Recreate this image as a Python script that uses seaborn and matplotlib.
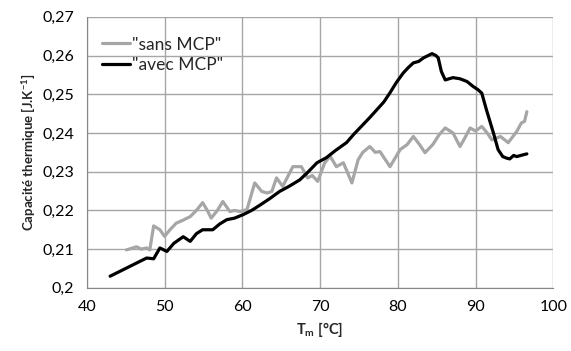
import pandas as pd
import matplotlib
matplotlib.use("Agg")
import matplotlib.pyplot as plt
import seaborn as sns
from matplotlib.ticker import FuncFormatter, MultipleLocator

# courbe "avec MCP"
avec_x = [43.0, 43.6, 44.2, 45.0, 45.9, 46.8, 47.7, 48.6, 49.4, 50.3,
          51.2, 52.4, 53.3, 54.1, 54.9, 56.2, 57.1, 58.0, 59.0, 60.1,
          61.2, 62.3, 63.5, 64.8, 66.0, 67.4, 68.5, 69.6, 70.8, 72.0,
          73.4, 74.4, 75.5, 76.4, 77.3, 78.2, 79.0, 79.8, 80.7, 81.4,
          82.0, 82.7, 83.3, 83.9, 84.4, 84.9, 85.2, 85.6, 86.1, 86.6,
          87.1, 88.0, 88.9, 89.7, 90.3, 90.8, 91.4, 92.3, 92.9, 93.5,
          94.0, 94.4, 94.9, 95.3, 96.0, 96.6]
avec_y = [0.2030, 0.2036, 0.2042, 0.2050, 0.2059, 0.2068, 0.2077, 0.2075, 0.2103, 0.2094,
          0.2115, 0.2132, 0.2120, 0.2140, 0.2150, 0.2150, 0.2165, 0.2176, 0.2180, 0.2189,
          0.2200, 0.2214, 0.2230, 0.2249, 0.2262, 0.2279, 0.2300, 0.2323, 0.2336, 0.2355,
          0.2375, 0.2398, 0.2421, 0.2440, 0.2460, 0.2480, 0.2504, 0.2530, 0.2555, 0.2570,
          0.2581, 0.2585, 0.2594, 0.2600, 0.2605, 0.2600, 0.2594, 0.2559, 0.2537, 0.2540,
          0.2543, 0.2540, 0.2533, 0.2520, 0.2512, 0.2503, 0.2460, 0.2400, 0.2357, 0.2339,
          0.2335, 0.2333, 0.2342, 0.2339, 0.2343, 0.2346]

# courbe "sans MCP"
sans_x = [45.1, 46.4, 47.0, 47.7, 48.1, 48.6, 49.4, 50.0, 50.7, 51.5,
          52.4, 53.3, 54.1, 54.9, 55.5, 56.0, 56.8, 57.5, 58.4, 59.0,
          59.7, 60.6, 61.6, 62.5, 63.2, 63.8, 64.4, 65.2, 66.5, 67.6,
          68.4, 69.0, 69.7, 70.6, 71.3, 72.1, 73.0, 74.1, 74.9, 75.5,
          76.4, 77.1, 77.7, 79.0, 80.3, 81.2, 82.0, 82.8, 83.5, 84.5,
          85.3, 86.1, 87.1, 88.0, 88.7, 89.3, 90.0, 90.8, 91.5, 92.1,
          93.2, 94.2, 95.3, 95.9, 96.3, 96.6]
sans_y = [0.2098, 0.2106, 0.2100, 0.2103, 0.2098, 0.2160, 0.2150, 0.2133, 0.2150, 0.2167,
          0.2175, 0.2184, 0.2200, 0.2220, 0.2200, 0.2180, 0.2200, 0.2223, 0.2197, 0.2200,
          0.2197, 0.2202, 0.2271, 0.2249, 0.2245, 0.2249, 0.2284, 0.2262, 0.2313, 0.2313,
          0.2284, 0.2290, 0.2275, 0.2323, 0.2340, 0.2313, 0.2323, 0.2271, 0.2331, 0.2350,
          0.2365, 0.2350, 0.2352, 0.2313, 0.2357, 0.2370, 0.2391, 0.2370, 0.2349, 0.2370,
          0.2395, 0.2413, 0.2400, 0.2365, 0.2390, 0.2413, 0.2405, 0.2417, 0.2400, 0.2382,
          0.2391, 0.2375, 0.2404, 0.2426, 0.2430, 0.2455]

labels = ['"sans MCP"', '"avec MCP"']
colors = ["#a6a6a6", "#000000"]

df = pd.concat([
    pd.DataFrame({"T": sans_x, "C": sans_y, "serie": labels[0]}),
    pd.DataFrame({"T": avec_x, "C": avec_y, "serie": labels[1]}),
])

sns.set_style("white")
plt.rcParams["font.family"] = ["Lato", "DejaVu Sans"]
plt.rcParams["mathtext.default"] = "regular"

fig = plt.figure(figsize=(5.71, 3.51), dpi=100)
ax = fig.add_axes([0.152, 0.18, 0.817, 0.772])

sns.lineplot(data=df, x="T", y="C", hue="serie", palette=dict(zip(labels, colors)),
             linewidth=2.3, sort=False, estimator=None, ax=ax)

ax.set_xlim(40, 100)
ax.set_ylim(0.2, 0.27)
ax.xaxis.set_major_locator(MultipleLocator(10))
ax.yaxis.set_major_locator(MultipleLocator(0.01))
ax.yaxis.set_major_formatter(FuncFormatter(lambda v, p: f"{v:.2f}".rstrip("0").replace(".", ",")))

ax.grid(True, color="#a6a6a6", linewidth=1)
for s in ["top", "right"]:
    ax.spines[s].set_visible(False)
for s in ["left", "bottom"]:
    ax.spines[s].set_color("#868686")
ax.tick_params(axis="both", length=5, color="#868686", labelsize=11.5, labelcolor="#000000", pad=4)

ax.set_xlabel("T$_m$ [°C]", fontsize=10.5, fontweight="bold")
ax.set_ylabel("Capacité thermique [J.K$^{-1}$]", fontsize=9.5, fontweight="bold")

ax.legend(loc="upper left", frameon=False, fontsize=12.5, handlelength=1.6, handletextpad=0.1,
          labelspacing=0.25, bbox_to_anchor=(0.0, 0.985))

fig.savefig("out.png", dpi=100)
